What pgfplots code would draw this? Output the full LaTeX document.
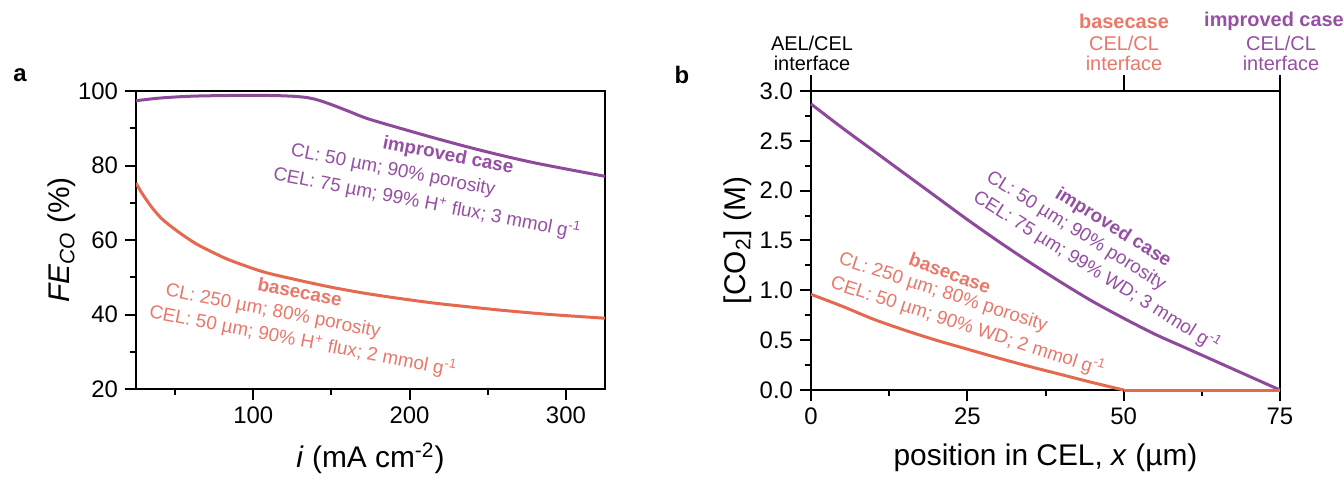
\documentclass[border=0pt]{standalone}
\usepackage{fontspec}
\setmainfont{Liberation Sans}
\usepackage{pgfplots}
\pgfplotsset{compat=1.18}
\definecolor{cred}{HTML}{E4694F}
\definecolor{cpur}{HTML}{8D4A9B}
\definecolor{tred}{HTML}{E8786A}
\definecolor{tpur}{HTML}{954FA3}
\newcommand{\ann}{\fontsize{9.5}{11}\selectfont}
\newcommand{\toplab}{\fontsize{10}{12}\selectfont}
\pgfplotsset{
  common/.style={
    scale only axis,
    anchor=south west,
    tick align=outside,
    tick pos=left,
    major tick length=5.5bp,
    minor tick length=3bp,
    axis line style={line width=1bp, black},
    tick style={line width=1bp, black},
    /pgf/number format/assume math mode=true,
    tick label style={font=\fontsize{12}{14}\selectfont},
    label style={font=\fontsize{15}{18}\selectfont},
  }
}
\begin{document}
\begin{tikzpicture}
\path[use as bounding box] (0,0) rectangle (672bp,238.5bp);

% ---------- panel a ----------
\begin{axis}[common,
  at={(68bp,44bp)}, width=234.5bp, height=149bp,
  xmin=25, xmax=325, ymin=20, ymax=100,
  xtick={100,200,300}, minor xtick={50,150,250},
  ytick={20,40,60,80,100}, minor ytick={30,50,70,90},
  xlabel={\textit{i} (mA cm\textsuperscript{-2})},
  ylabel={\textit{FE}\textsubscript{\textit{CO}} (\%)},
  xlabel style={at={(axis description cs:0.5,-0.232)}, anchor=center},
  ylabel style={at={(axis description cs:-0.158,0.5)}, anchor=center},
]
\addplot[cpur, line width=1.5bp, smooth, tension=0.5] coordinates {
(25,97.4) (40,98.1) (60,98.6) (85,98.8) (110,98.8) (125,98.6)
(135,98.2) (142,97.5) (151,96.2) (162,94.4) (173,92.6) (194,90.0)
(215,87.5) (237,85.0) (258,82.8) (279,80.8) (301,79.0) (325,77.1)};
\addplot[cred, line width=1.5bp, smooth, tension=0.5] coordinates {
(25,75.3) (28,73.1) (31.8,70.7) (36,68.3) (42.3,65.4) (53,61.9) (63.8,58.9)
(75,56.5) (85,54.6) (106,51.5) (128,49.3) (149,47.4) (170,45.8) (192,44.4)
(215,43.1) (239,42.0) (260,41.1) (290,40.0) (325,39.0)};
\end{axis}

% ---------- panel b ----------
\begin{axis}[common,
  at={(405.5bp,43.5bp)}, width=234.5bp, height=149.5bp,
  xmin=0, xmax=75, ymin=0, ymax=3,
  xtick={0,25,50,75}, minor x tick num=1,
  ytick={0,0.5,...,3}, minor y tick num=1,
  clip=false,
  yticklabel style={/pgf/number format/.cd, fixed, fixed zerofill, precision=1},
  xlabel={position in CEL, \textit{x} (µm)},
  ylabel={[CO\textsubscript{2}] (M)},
  xlabel style={at={(axis description cs:0.5,-0.227)}, anchor=center},
  ylabel style={at={(axis description cs:-0.156,0.5)}, anchor=center},
]
\addplot[cpur, line width=1.5bp, smooth, tension=0.5] coordinates {
(0,2.87) (5,2.63) (10,2.40) (15,2.17) (20,1.94) (25,1.71) (30,1.49)
(35,1.28) (40,1.08) (45,0.89) (50,0.72) (55,0.56) (60,0.42) (65,0.28)
(70,0.14) (75,0.0)};
\addplot[cred, line width=1.5bp, smooth, tension=0.5] coordinates {
(0,0.96) (5,0.84) (10,0.71) (15,0.60) (20,0.50) (25,0.41) (30,0.32)
(35,0.235) (40,0.155) (45,0.075) (50,0.0)};
\addplot[cred, line width=1.5bp] coordinates {(50,0.0) (75,0.0)};
\end{axis}

% top ticks of panel b
\begin{axis}[scale only axis, anchor=south west,
  at={(405.5bp,43.5bp)}, width=234.5bp, height=149.5bp,
  xmin=0, xmax=75, ymin=0, ymax=3,
  axis x line*=top, axis y line=none,
  xtick={0,50,75}, xtick pos=right, xticklabels={},
  tick align=outside, major tick length=8bp,
  axis line style={line width=1bp, black},
  tick style={line width=1bp, black},
]
\addplot[draw=none] coordinates {(0,0)};
\end{axis}

% panel letters
\node[font=\fontsize{12}{14}\selectfont\bfseries] at (10bp,201bp) {a};
\node[font=\fontsize{12}{14}\selectfont\bfseries] at (341bp,201bp) {b};

% panel a annotations
\node[rotate=-11, text=tpur, font=\ann\bfseries] at (224bp,160.5bp) {improved case};
\node[rotate=-11, text=tpur, font=\ann] at (196.5bp,153bp) {CL: 50 µm; 90\% porosity};
\node[rotate=-11, text=tpur, font=\ann] at (213.5bp,137bp) {CEL: 75 µm; 99\% H\textsuperscript{+} flux; 3 mmol g\textsuperscript{-1}};
\node[rotate=-11, text=tred, font=\ann\bfseries] at (150bp,92.5bp) {basecase};
\node[rotate=-11, text=tred, font=\ann] at (136.5bp,82.5bp) {CL: 250 µm; 80\% porosity};
\node[rotate=-11, text=tred, font=\ann] at (151.5bp,68bp) {CEL: 50 µm; 90\% H\textsuperscript{+} flux; 2 mmol g\textsuperscript{-1}};

% panel b annotations
\node[rotate=-32, text=tpur, font=\ann\bfseries] at (556.5bp,124.5bp) {improved case};
\node[rotate=-32, text=tpur, font=\ann] at (538bp,123bp) {CL: 50 µm; 90\% porosity};
\node[rotate=-32, text=tpur, font=\ann] at (548.5bp,103bp) {CEL: 75 µm; 99\% WD; 3 mmol g\textsuperscript{-1}};
\node[rotate=-20, text=tred, font=\ann\bfseries] at (475bp,102bp) {basecase};
\node[rotate=-18, text=tred, font=\ann] at (471.5bp,92bp) {CL: 250 µm; 80\% porosity};
\node[rotate=-18, text=tred, font=\ann] at (484bp,75.5bp) {CEL: 50 µm; 90\% WD; 2 mmol g\textsuperscript{-1}};

% top labels of panel b
\node[font=\toplab] at (406bp,217bp) {AEL/CEL};
\node[font=\toplab] at (406bp,207bp) {interface};
\node[font=\toplab\bfseries, text=tred] at (562bp,228bp) {basecase};
\node[font=\toplab, text=tred] at (562bp,217bp) {CEL/CL};
\node[font=\toplab, text=tred] at (562bp,207bp) {interface};
\node[font=\toplab\bfseries, text=tpur] at (637bp,228bp) {improved case};
\node[font=\toplab, text=tpur] at (640.5bp,217bp) {CEL/CL};
\node[font=\toplab, text=tpur] at (640.5bp,207bp) {interface};
\end{tikzpicture}
\end{document}
